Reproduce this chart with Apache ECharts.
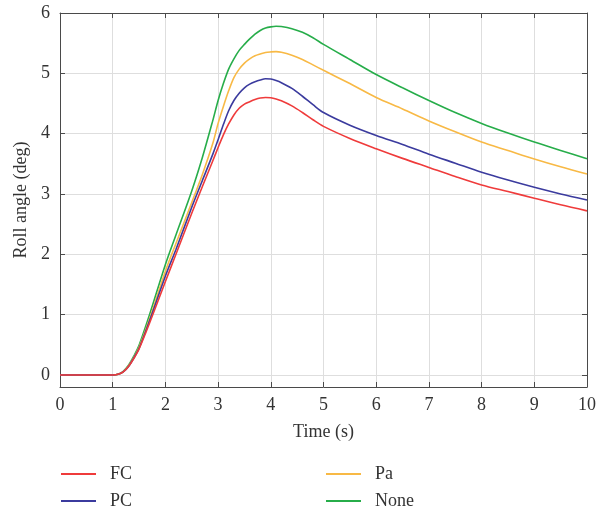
<!DOCTYPE html>
<html>
<head>
<meta charset="utf-8">
<script src="https://cdn.jsdelivr.net/npm/echarts@6/dist/echarts.min.js"></script>
<style>html,body{margin:0;padding:0;background:#fff;}#c{width:599px;height:513px;}</style>
</head>
<body>
<div id="c"></div>
<script>
var time = [0, 0.5, 1.0, 1.1, 1.2, 1.3, 1.4, 1.5, 1.7, 2.0, 2.2, 2.5, 2.7, 2.9, 3.0, 3.1, 3.2, 3.3, 3.4, 3.5, 3.6, 3.7, 3.8, 3.9, 4.0, 4.1, 4.2, 4.4, 4.6, 4.8, 5.0, 5.5, 6.0, 6.5, 7.0, 7.5, 8.0, 8.5, 9.0, 9.5, 10.0];
var fc   = [0, 0, 0, 0.01, 0.05, 0.14, 0.27, 0.43, 0.86, 1.55, 2.00, 2.68, 3.12, 3.55, 3.77, 3.98, 4.16, 4.31, 4.42, 4.49, 4.53, 4.565, 4.59, 4.60, 4.595, 4.575, 4.545, 4.46, 4.35, 4.23, 4.12, 3.92, 3.75, 3.59, 3.44, 3.29, 3.15, 3.04, 2.93, 2.82, 2.72];
var pc   = [0, 0, 0, 0.01, 0.05, 0.14, 0.28, 0.44, 0.90, 1.64, 2.08, 2.78, 3.22, 3.66, 3.90, 4.15, 4.38, 4.55, 4.67, 4.76, 4.82, 4.86, 4.89, 4.91, 4.905, 4.88, 4.845, 4.75, 4.62, 4.48, 4.35, 4.14, 3.97, 3.82, 3.66, 3.51, 3.36, 3.23, 3.11, 3.00, 2.90];
var pa   = [0, 0, 0, 0.01, 0.05, 0.15, 0.29, 0.46, 0.93, 1.72, 2.18, 2.86, 3.32, 3.84, 4.17, 4.45, 4.71, 4.93, 5.07, 5.17, 5.24, 5.29, 5.32, 5.345, 5.355, 5.36, 5.35, 5.30, 5.23, 5.14, 5.05, 4.83, 4.60, 4.41, 4.21, 4.03, 3.86, 3.72, 3.58, 3.45, 3.33];
var none = [0, 0, 0, 0.01, 0.06, 0.16, 0.31, 0.49, 1.00, 1.83, 2.32, 3.05, 3.60, 4.22, 4.55, 4.83, 5.07, 5.24, 5.38, 5.48, 5.57, 5.65, 5.71, 5.75, 5.77, 5.78, 5.775, 5.74, 5.68, 5.59, 5.48, 5.23, 4.98, 4.76, 4.55, 4.35, 4.17, 4.01, 3.86, 3.72, 3.585];
var xTicks = [0, 1, 2, 3, 4, 5, 6, 7, 8, 9, 10];
var yTicks = [0, 1, 2, 3, 4, 5, 6];
var names = ['FC', 'PC', 'Pa', 'None'];
var colors = ['#ef3b3b', '#3b3b9e', '#f8b945', '#27ad4a'];

function pairs(arr) { return time.map(function (t, i) { return [t, arr[i]]; }); }
var FONT = 'Liberation Serif';
var chart = echarts.init(document.getElementById('c'), null, { renderer: 'canvas' });
var lineCol = '#4a4a4a';
function tick(custom) {
  var t = { show: true, inside: true, length: 5, lineStyle: { color: lineCol, width: 1 } };
  if (custom) t.customValues = custom;
  return t;
}
var axLine = { show: true, onZero: false, lineStyle: { color: lineCol, width: 1 } };
var legendPos = [[61, 465], [61, 492], [326, 465], [326, 492]];
chart.setOption({
  animation: false,
  backgroundColor: '#fff',
  textStyle: { fontFamily: FONT },
  grid: { left: 60, right: 9, top: 13, bottom: 126, containLabel: false },
  legend: names.map(function (n, i) {
    return { left: legendPos[i][0], top: legendPos[i][1], padding: 0, itemWidth: 35, itemHeight: 2, icon: 'rect',
      data: [n], textStyle: { fontFamily: FONT, fontSize: 18, color: '#333', padding: [0, 0, 0, 9] } };
  }),
  xAxis: [
    {
      type: 'value', min: 0, max: 10, interval: 1, position: 'bottom',
      name: 'Time (s)', nameLocation: 'middle', nameGap: 36,
      nameTextStyle: { fontFamily: FONT, fontSize: 18, color: '#333' },
      axisLine: axLine, axisTick: tick(),
      axisLabel: { fontFamily: FONT, fontSize: 18, color: '#333', margin: 9 },
      splitLine: { show: true, lineStyle: { color: '#dedede', width: 1 } }
    },
    {
      type: 'value', min: 0, max: 10, interval: 1, position: 'top',
      axisLine: axLine, axisTick: tick(),
      axisLabel: { show: false }, splitLine: { show: false }
    }
  ],
  yAxis: [
    {
      type: 'value', min: -0.2, max: 6, position: 'left',
      name: 'Roll angle (deg)', nameLocation: 'middle', nameGap: 28,
      nameTextStyle: { fontFamily: FONT, fontSize: 18, color: '#333' },
      axisLine: axLine, axisTick: tick(yTicks),
      axisLabel: { fontFamily: FONT, fontSize: 18, color: '#333', margin: 10, customValues: yTicks },
      splitLine: { show: true, lineStyle: { color: '#dedede', width: 1 } }
    },
    {
      type: 'value', min: -0.2, max: 6, position: 'right',
      axisLine: axLine, axisTick: tick(yTicks),
      axisLabel: { show: false, customValues: yTicks }, splitLine: { show: false }
    }
  ],
  series: [fc, pc, pa, none].map(function (arr, i) {
    return {
      name: names[i], type: 'line', data: pairs(arr), smooth: 0.3,
      showSymbol: false, symbol: 'none', color: colors[i],
      lineStyle: { color: colors[i], width: 1.6 }, z: 2 + (3 - i)
    };
  })
});
</script>
</body>
</html>
